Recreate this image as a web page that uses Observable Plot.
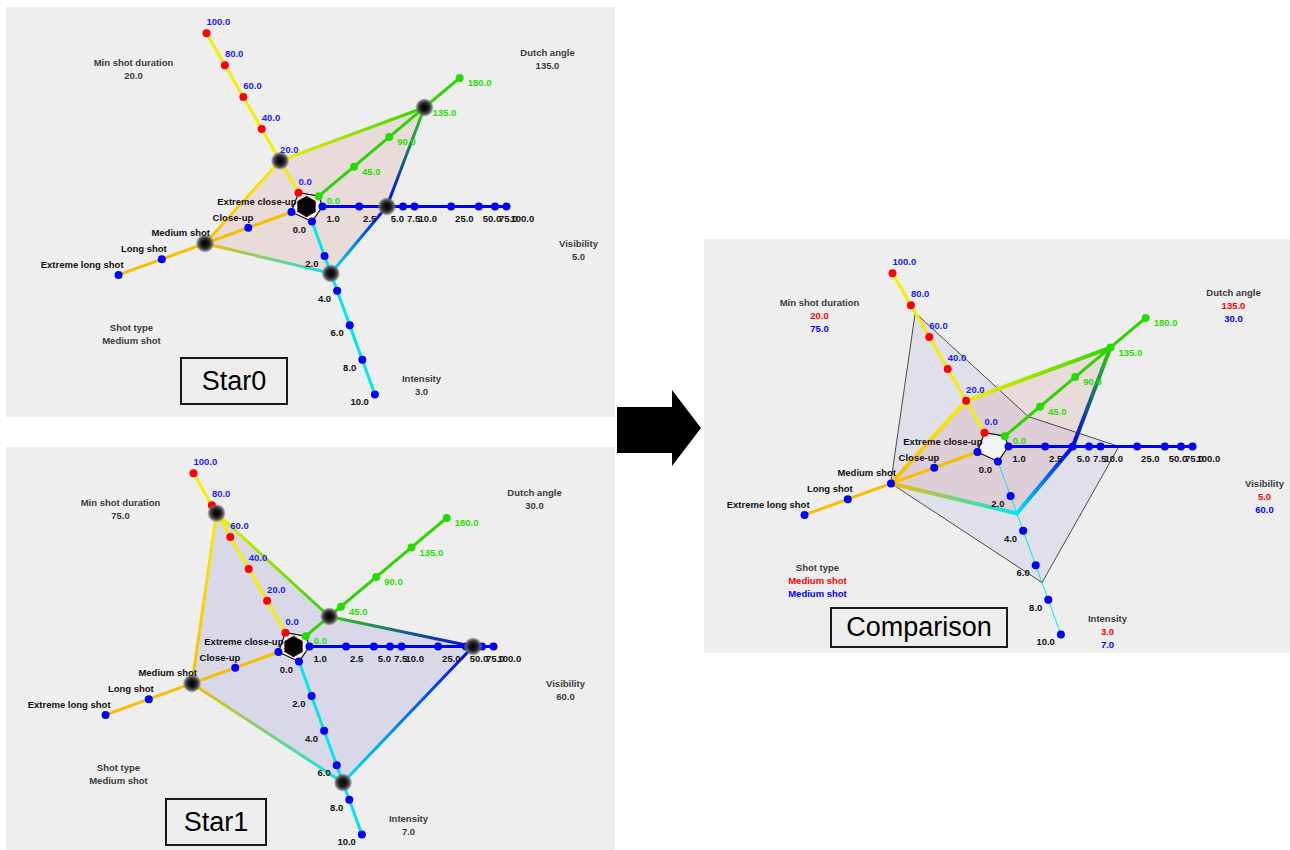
<!DOCTYPE html>
<html><head><meta charset="utf-8">
<script src="https://cdn.jsdelivr.net/npm/d3@7"></script>
<script src="https://cdn.jsdelivr.net/npm/@observablehq/plot@0.6"></script>
<style>
body{margin:0;width:1290px;height:850px;overflow:hidden;background:#fff;font-family:"Liberation Sans",Arial,sans-serif;position:relative}
.panel{position:absolute;background:#eeeeee;overflow:hidden}
.panel svg{display:block}
.tag{position:absolute;border:2px solid #1a1a1a;box-sizing:border-box;font-size:27px;display:flex;align-items:center;justify-content:center;color:#000;font-family:"Liberation Sans",Arial,sans-serif}
.arrow-body{position:absolute;left:617px;top:407px;width:56px;height:46px;background:#000}
.arrow-head{position:absolute;left:672px;top:390px;width:0;height:0;border-left:29px solid #000;border-top:38.5px solid transparent;border-bottom:38.5px solid transparent}
</style></head><body>
<script>
// ---------- data ----------
const axisNames = ["Min shot duration", "Dutch angle", "Visibility", "Intensity", "Shot type"];
const minShotTicks = [0, 20, 40, 60, 80, 100];
const dutchAngleTicks = [0, 45, 90, 135, 180];
const visibilityTicks = [1, 2.5, 5, 7.5, 10, 25, 50, 75, 100];
const intensityTicks = [0, 2, 4, 6, 8, 10];
const shotTypeTicks = ["Extreme close-up", "Close-up", "Medium shot", "Long shot", "Extreme long shot"];
const star0Values = [20, 135, 5, 3, "Medium shot"];
const star1Values = [75, 30, 60, 7, "Medium shot"];
const panelTitles = ["Star0", "Star1", "Comparison"];

// ---------- styling / layout ----------
const axisAngles = [120, 40, 0, 290, 200];
const axisColors = ["#f6ee00", "#2ed400", "#0000f0", "#00e6f0", "#f7bd00"];
const dotColors = ["#ff0000", "#22dd00", "#0000ff", "#0000ff", "#0000ff"];
const tickLabelColors = ["#1a1aff", "#1ee000", "#111111", "#111111", "#111111"];
const tickLabelPlacement = [
  {textAnchor: "start", dx: 0, dy: -11},
  {textAnchor: "start", dx: 8, dy: 5},
  {textAnchor: "start", dx: 4, dy: 12},
  {textAnchor: "end", dx: -6, dy: 8},
  {textAnchor: "end", dx: 5, dy: -10}
];
const nameOffsets = [[-173, -144], [241, -154], [272, 37], [115, 172], [-175, 121]];
const R0 = 16, R1 = 200;
const font = "Liberation Sans, Arial, sans-serif";

const radialScales = [
  d3.scaleLinear([0, 100], [R0, R1]),
  d3.scaleLinear([0, 180], [R0, R1]),
  d3.scaleLog([1, 100], [R0, R1]),
  d3.scaleLinear([0, 10], [R0, R1]),
  d3.scalePoint(shotTypeTicks, [R0, R1])
];
// the comparison overlay of Star1 places visibility on a linear radius
const linearVisibility = d3.scaleLinear([0, 100], [R0, R1]);
const tickLists = [minShotTicks, dutchAngleTicks, visibilityTicks, intensityTicks, shotTypeTicks];
const fmt = d3.format(".1f");
const label = v => typeof v === "string" ? v : fmt(v);

function polar(axis, r) {
  const a = axisAngles[axis] * Math.PI / 180;
  return {x: r * Math.cos(a), y: r * Math.sin(a)};
}
function at(axis, value, scale = radialScales[axis]) {
  return {axis, value, ...polar(axis, scale(value))};
}
function vertices(values, overrides = {}) {
  return values.map((v, i) => at(i, v, overrides[i] || radialScales[i]));
}
function edgesOf(vs) {
  return vs.map((p, i) => {
    const q = vs[(i + 1) % vs.length];
    return {x1: p.x, y1: p.y, x2: q.x, y2: q.y, c1: axisColors[p.axis], c2: axisColors[q.axis]};
  });
}

function defsMark(prefix, edgeSets, cx, cy) {
  return (index, scales) => {
    const ns = "http://www.w3.org/2000/svg";
    const sx = (scales && scales.x) || (v => v + cx);
    const sy = (scales && scales.y) || (v => cy - v);
    const defs = document.createElementNS(ns, "defs");
    edgeSets.forEach(({id, edges}) => edges.forEach((e, i) => {
      const g = document.createElementNS(ns, "linearGradient");
      g.setAttribute("id", `${prefix}-${id}-${i}`);
      g.setAttribute("gradientUnits", "userSpaceOnUse");
      g.setAttribute("x1", sx(e.x1)); g.setAttribute("y1", sy(e.y1));
      g.setAttribute("x2", sx(e.x2)); g.setAttribute("y2", sy(e.y2));
      [[0, e.c1], [1, e.c2]].forEach(([o, c]) => {
        const s = document.createElementNS(ns, "stop");
        s.setAttribute("offset", o); s.setAttribute("stop-color", c);
        g.appendChild(s);
      });
      defs.appendChild(g);
    }));
    const rg = document.createElementNS(ns, "radialGradient");
    rg.setAttribute("id", `${prefix}-sphere`);
    [[0, "#000", 1], [0.45, "#1c1c1c", 1], [0.75, "#555", 0.95], [1, "#8a8a8a", 0.35]].forEach(([o, c, op]) => {
      const s = document.createElementNS(ns, "stop");
      s.setAttribute("offset", o); s.setAttribute("stop-color", c); s.setAttribute("stop-opacity", op);
      rg.appendChild(s);
    });
    defs.appendChild(rg);
    return defs;
  };
}

function buildPanel(cfg) {
  const {prefix, left, top, width, height, cx, cy, stars, hub, intensityWidth} = cfg;
  const edgeSets = stars.filter(s => s.gradient).map(s => ({id: s.id, edges: edgesOf(s.vs)}));
  const marks = [defsMark(prefix, edgeSets, cx, cy)];
  for (const s of stars) {
    marks.push(Plot.line(s.vs, {x: "x", y: "y", curve: "linear-closed", fill: s.fill, fillOpacity: s.fillOpacity, stroke: "none"}));
  }
  for (const s of stars.filter(s => !s.gradient)) {
    marks.push(Plot.line(s.vs, {x: "x", y: "y", curve: "linear-closed", fill: "none", stroke: "#4a4a4a", strokeWidth: 1}));
  }
  const ring = axisNames.map((_, i) => polar(i, R0));
  marks.push(Plot.line(ring, {x: "x", y: "y", curve: "linear-closed", fill: "#f3f3f3", stroke: "#111", strokeWidth: 1.2}));
  axisNames.forEach((_, i) => {
    const t = tickLists[i];
    const a = at(i, t[0]), b = at(i, t[t.length - 1]);
    marks.push(Plot.link([{x1: a.x, y1: a.y, x2: b.x, y2: b.y}], {
      x1: "x1", y1: "y1", x2: "x2", y2: "y2", stroke: axisColors[i],
      strokeWidth: i === 3 ? intensityWidth : 3
    }));
  });
  for (const {id, edges} of edgeSets) {
    const s = stars.find(s => s.id === id);
    edges.forEach((e, i) => marks.push(Plot.link([e], {
      x1: "x1", y1: "y1", x2: "x2", y2: "y2",
      stroke: `url(#${prefix}-${id}-${i})`, strokeWidth: s.edgeWidth, strokeLinecap: "round"
    })));
  }
  axisNames.forEach((_, i) => {
    marks.push(Plot.dot(tickLists[i].map(v => at(i, v)), {x: "x", y: "y", r: 4, fill: dotColors[i], stroke: "none"}));
  });
  for (const s of stars.filter(s => s.spheres)) {
    marks.push(Plot.dot(s.vs, {x: "x", y: "y", r: 9, fill: `url(#${prefix}-sphere)`, stroke: "none"}));
  }
  if (hub) {
    marks.push(Plot.dot([{x: 0, y: 0}], {x: "x", y: "y", symbol: "hexagon", r: 9, fill: "#050505", stroke: "#8a0000", strokeWidth: 1, strokeDasharray: "1.5,1.5"}));
  }
  axisNames.forEach((_, i) => {
    marks.push(Plot.text(tickLists[i].map(v => at(i, v)), {
      x: "x", y: "y", text: d => label(d.value), fill: tickLabelColors[i],
      fontSize: 9.5, fontWeight: "bold", fontFamily: font, ...tickLabelPlacement[i]
    }));
  });
  const names = axisNames.map((n, i) => ({x: nameOffsets[i][0], y: -nameOffsets[i][1], text: n}));
  marks.push(Plot.text(names, {x: "x", y: "y", text: "text", fill: "#3c3c3c", fontSize: 9.5, fontWeight: "bold", fontFamily: font}));
  for (const s of stars) {
    const vals = s.values.map((v, i) => ({x: nameOffsets[i][0], y: -nameOffsets[i][1] - 13 * s.valueLine, text: label(v)}));
    marks.push(Plot.text(vals, {x: "x", y: "y", text: "text", fill: s.valueColor, fontSize: 9.5, fontWeight: "bold", fontFamily: font}));
  }

  const chart = Plot.plot({
    width, height, margin: 0,
    x: {domain: [-cx, width - cx], axis: null},
    y: {domain: [cy - height, cy], axis: null},
    style: {background: "#eeeeee", fontFamily: font, overflow: "visible"},
    marks
  });
  const div = document.createElement("div");
  div.className = "panel";
  Object.assign(div.style, {left: left + "px", top: top + "px", width: width + "px", height: height + "px"});
  div.appendChild(chart);
  document.body.appendChild(div);
}

function tag(text, l, t, w, h) {
  const d = document.createElement("div");
  d.className = "tag";
  d.textContent = text;
  Object.assign(d.style, {left: l + "px", top: t + "px", width: w + "px", height: h + "px"});
  document.body.appendChild(d);
}

buildPanel({
  prefix: "p0", left: 6, top: 7, width: 609, height: 410, cx: 300, cy: 199, hub: true, intensityWidth: 3,
  stars: [{id: "a", values: star0Values, vs: vertices(star0Values), fill: "#c00000", fillOpacity: 0.08, gradient: true, edgeWidth: 3, spheres: true, valueColor: "#3c3c3c", valueLine: 1}]
});
buildPanel({
  prefix: "p1", left: 6, top: 447, width: 609, height: 410, cx: 287, cy: 199, hub: true, intensityWidth: 3,
  stars: [{id: "b", values: star1Values, vs: vertices(star1Values), fill: "#0000c0", fillOpacity: 0.09, gradient: true, edgeWidth: 3, spheres: true, valueColor: "#3c3c3c", valueLine: 1}]
});
buildPanel({
  prefix: "p2", left: 704, top: 239, width: 586, height: 414, cx: 288, cy: 207, hub: false, intensityWidth: 1,
  stars: [
    {id: "b", values: star1Values, vs: vertices(star1Values, {2: linearVisibility}), fill: "#0000c0", fillOpacity: 0.055, gradient: false, spheres: false, valueColor: "#0000ff", valueLine: 2},
    {id: "a", values: star0Values, vs: vertices(star0Values), fill: "#c00000", fillOpacity: 0.08, gradient: true, edgeWidth: 4, spheres: false, valueColor: "#ff0000", valueLine: 1}
  ]
});
tag(panelTitles[0], 180, 357, 108, 48);
tag(panelTitles[1], 165, 798, 102, 48);
tag(panelTitles[2], 830, 607, 178, 41);
const ab = document.createElement("div"); ab.className = "arrow-body"; document.body.appendChild(ab);
const ah = document.createElement("div"); ah.className = "arrow-head"; document.body.appendChild(ah);
</script>
</body></html>
